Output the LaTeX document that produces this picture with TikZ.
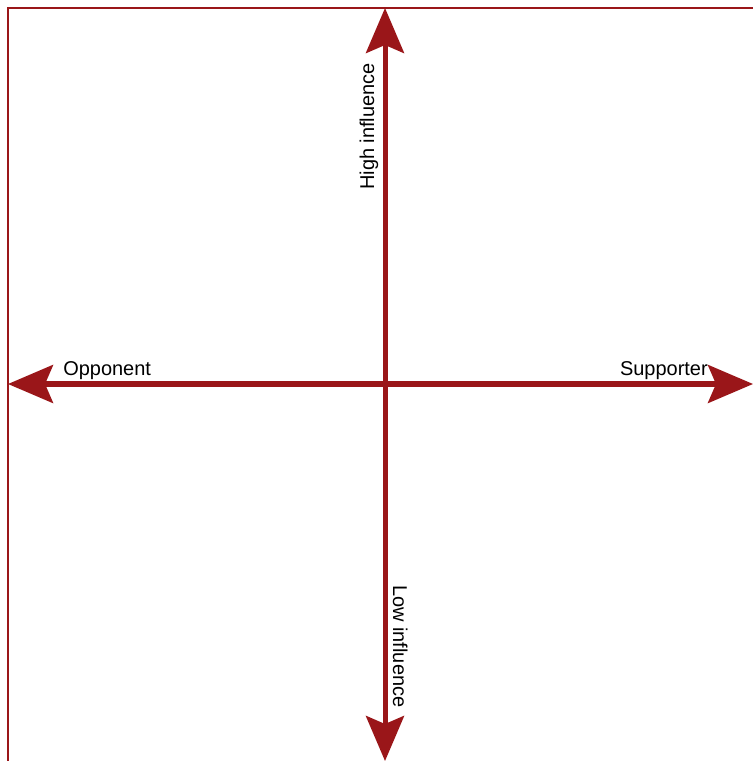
\documentclass[tikz,border=0pt]{standalone}
\usepackage{fontspec}
\setmainfont{Liberation Sans}
\usepackage{tikz}
\usetikzlibrary{arrows.meta}
\definecolor{cred}{HTML}{9A1619}
\tikzset{
  axis/.style={cred, line width=3.56pt,
    {Stealth[length=1.125cm, width=0.95cm, inset=0.2cm]}-{Stealth[length=1.125cm, width=0.95cm, inset=0.2cm]}},
  lbl/.style={inner sep=0pt, font=\fontsize{14.2pt}{17pt}\selectfont}
}

\begin{document}
\begin{tikzpicture}[x=0.025cm, y=-0.025cm]
  \useasboundingbox (0,0) rectangle (753,761);
  % frame
  \draw[cred, line width=0.9pt] (8,761) -- (8,8) -- (753,8);
  % axis ends
  \coordinate (top) at (385,8);
  \coordinate (bottom) at (385,761);
  \coordinate (left) at (8,384);
  \coordinate (right) at (753,384);
  \draw[axis] (bottom) -- (top);
  \draw[axis] (left) -- (right);
  % labels
  \node[lbl, anchor=base west] (opp) at (63,375) {Opponent};
  \node[lbl, anchor=base east] (sup) at (708,375) {Supporter};
  \node[lbl, anchor=base west, rotate=90] (high) at (374,190) {High influence};
  \node[lbl, anchor=base west, rotate=-90] (low) at (393,585) {Low influence};
\end{tikzpicture}
\end{document}
